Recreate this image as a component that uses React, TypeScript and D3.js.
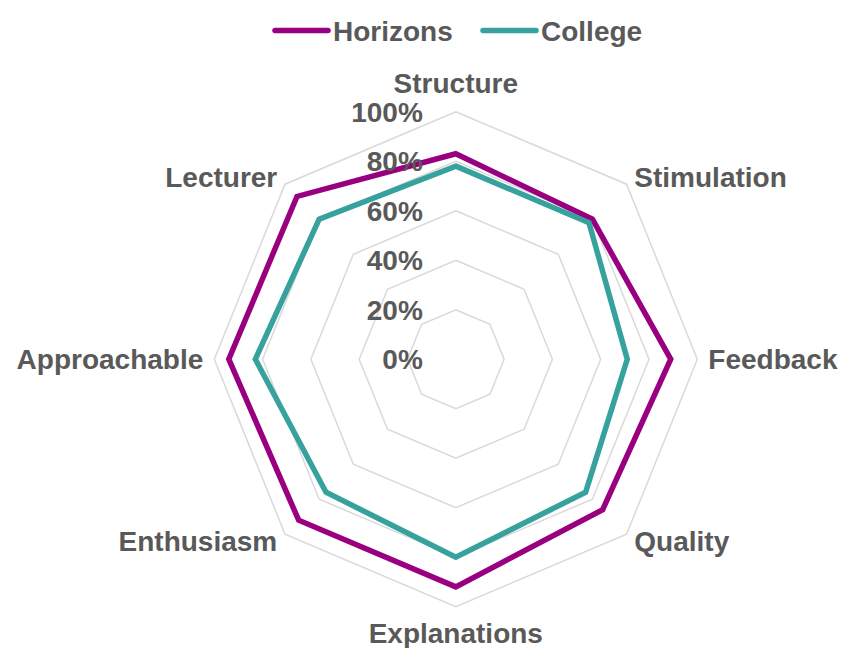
import * as d3 from "d3";
import { useEffect, useRef } from "react";

const categories = ["Structure", "Stimulation", "Feedback", "Quality", "Explanations", "Enthusiasm", "Approachable", "Lecturer"];
const horizons = [0.83, 0.80, 0.89, 0.86, 0.92, 0.92, 0.94, 0.93];
const college = [0.78, 0.78, 0.71, 0.76, 0.80, 0.76, 0.83, 0.80];
const tickValues = [0, 0.2, 0.4, 0.6, 0.8, 1];
const seriesNames = ["Horizons", "College"];
const seriesColors = ["#990080", "#37A19E"];

const App = () => {
  const ref = useRef<SVGSVGElement | null>(null);

  useEffect(() => {
    const width = 842, height = 648;
    const cx = 455.8, cy = 359.2;
    const font = "'Liberation Sans', Arial, sans-serif";
    const textColor = "#595959";

    const svg = d3.select(ref.current);
    svg.selectAll("*").remove();
    svg.attr("width", width).attr("height", height);

    // separate x / y radius, the original is a touch taller than wide
    const rx = d3.scaleLinear().domain([0, 1]).range([0, 241.5]);
    const ry = d3.scaleLinear().domain([0, 1]).range([0, 247.5]);
    const angle = d3.scaleLinear().domain([0, categories.length]).range([0, 2 * Math.PI]);

    const px = (i: number, v: number) => cx + rx(v) * Math.sin(angle(i));
    const py = (i: number, v: number) => cy - ry(v) * Math.cos(angle(i));

    const ring = d3.line<number>()
      .x((v, i) => px(i, v))
      .y((v, i) => py(i, v))
      .curve(d3.curveLinearClosed);

    // grid rings (no ring at 0)
    const grid = svg.append("g");
    tickValues.filter(t => t > 0).forEach(t => {
      grid.append("path")
        .attr("d", ring(categories.map(() => t)))
        .attr("fill", "none")
        .attr("stroke", "#D9D9D9")
        .attr("stroke-width", 1.5);
    });

    // series
    [horizons, college].forEach((vals, k) => {
      svg.append("path")
        .attr("d", ring(vals))
        .attr("fill", "none")
        .attr("stroke", seriesColors[k])
        .attr("stroke-width", 5.5)
        .attr("stroke-linejoin", "miter");
    });

    // tick labels along the top axis
    svg.append("g")
      .attr("font-family", font)
      .attr("font-size", 28)
      .attr("font-weight", "bold")
      .attr("fill", textColor)
      .attr("text-anchor", "end")
      .selectAll("text")
      .data(tickValues)
      .enter().append("text")
      .attr("x", cx - 33)
      .attr("y", d => cy - ry(d))
      .attr("dy", "0.36em")
      .text(d => d3.format(".0%")(d));

    // category labels
    svg.append("g")
      .attr("font-family", font)
      .attr("font-size", 28)
      .attr("font-weight", "bold")
      .attr("fill", textColor)
      .selectAll("text")
      .data(categories)
      .enter().append("text")
      .attr("text-anchor", (d, i) => {
        const s = Math.sin(angle(i));
        return s > 0.01 ? "start" : s < -0.01 ? "end" : "middle";
      })
      .attr("x", (d, i) => px(i, 1) + 11 * Math.sin(angle(i)))
      .attr("y", (d, i) => {
        const c = Math.cos(angle(i));
        const off = c > 0.9 ? 28.5 : c < -0.9 ? 26 : 10;
        return py(i, 1) - off * c;
      })
      .attr("dy", "0.36em")
      .text(d => d);

    // legend
    const legendX = [275, 483];
    const legend = svg.append("g")
      .attr("font-family", font)
      .attr("font-size", 28)
      .attr("font-weight", "bold")
      .attr("fill", textColor);
    seriesNames.forEach((name, k) => {
      legend.append("line")
        .attr("x1", legendX[k]).attr("x2", legendX[k] + 53)
        .attr("y1", 30.5).attr("y2", 30.5)
        .attr("stroke", seriesColors[k])
        .attr("stroke-width", 5.5)
        .attr("stroke-linecap", "round");
      legend.append("text")
        .attr("x", legendX[k] + 58)
        .attr("y", 30.5)
        .attr("dy", "0.36em")
        .text(name);
    });
  }, []);

  return (
    <svg ref={ref} style={{ position: "absolute", left: 0, top: 0, background: "#fff" }} />
  );
};

export default App;
